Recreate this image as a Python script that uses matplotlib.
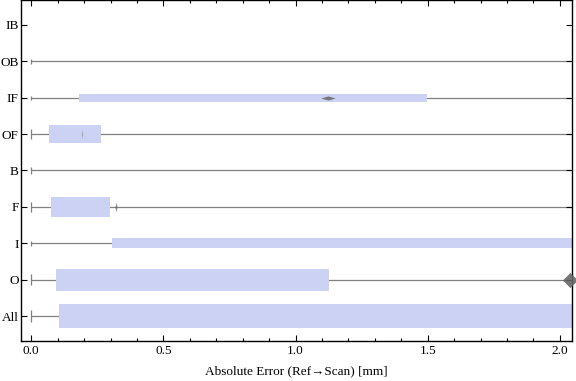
import matplotlib
matplotlib.use("Agg")
import matplotlib.pyplot as plt
from matplotlib.ticker import MultipleLocator

# categories listed bottom -> top
categories = ["All", "O", "I", "F", "B", "OF", "IF", "OB", "IB"]
# whisker low / high (mm); None = nothing drawn
whisk_lo = [0.0, 0.0, 0.0, 0.0, 0.0, 0.0, 0.0, 0.0, None]
whisk_hi = [2.6, 2.6, 2.6, 2.6, 2.6, 2.6, 2.6, 2.6, None]
# box quartiles (mm)
q1 = [0.105, 0.093, 0.305, 0.075, None, 0.067, 0.180, None, None]
q3 = [2.60, 1.126, 2.60, 0.298, None, 0.263, 1.496, None, None]
# box thickness (category units)
box_w = [0.65, 0.60, 0.27, 0.57, 0.38, 0.51, 0.22, 0.27, 0.0]
# diamond markers (mm), None = none
marker_x = [None, 2.04, None, 0.322, None, 0.19, 1.123, None, None]

box_color = "#ccd2f4"
line_color = "#808080"

plt.rcParams["font.family"] = ["Liberation Serif", "DejaVu Serif"]

fig = plt.figure(figsize=(5.76, 3.81), dpi=100)
ax = fig.add_axes([0.036, 0.106, 0.9565, 0.893])

ypos = list(range(1, len(categories) + 1))

for y, lo, hi, a, b, w, mx in zip(ypos, whisk_lo, whisk_hi, q1, q3, box_w, marker_x):
    if lo is not None:
        ax.hlines(y, lo, hi, color=line_color, lw=0.9, zorder=1)
        ax.vlines(lo, y - w / 4, y + w / 4, color=line_color, lw=0.9, zorder=1)
    if a is not None:
        ax.barh(y, b - a, left=a, height=w, color=box_color, lw=0, zorder=2)

# median / mean diamonds (shape differs per row)
ax.scatter([marker_x[6]], [ypos[6]], marker=[(-1, 0), (0, 0.28), (1, 0), (0, -0.28)],
           s=110, color="#666666", alpha=0.85, lw=0, zorder=3)
ax.scatter([marker_x[5]], [ypos[5]], marker=[(-0.15, 0), (0, 1), (0.15, 0), (0, -1)],
           s=45, color="#9a9aa8", alpha=0.8, lw=0, zorder=3)
ax.scatter([marker_x[3]], [ypos[3]], marker=[(-0.25, 0), (0, 1), (0.25, 0), (0, -1)],
           s=45, color="#777777", alpha=0.85, lw=0, zorder=3)
ax.scatter([marker_x[1]], [ypos[1]], marker="D", s=60, color="#666666",
           alpha=0.9, lw=0, zorder=3, clip_on=False)

ax.set_xlim(-0.04, 2.045)
ax.set_ylim(0.33, 9.67)
ax.set_yticks(ypos)
ax.set_yticklabels(categories, fontsize=9.5)
ax.xaxis.set_major_locator(MultipleLocator(0.5))
ax.xaxis.set_minor_locator(MultipleLocator(0.1))
ax.set_xticklabels([], minor=True)
ax.xaxis.set_major_formatter(plt.FuncFormatter(lambda v, p: f"{v:.1f}"))
ax.tick_params(axis="both", which="both", direction="in", top=True, right=True,
               labelsize=9.5, width=0.8)
ax.tick_params(axis="both", which="major", length=4, pad=3)
ax.tick_params(axis="y", which="major", pad=1.5)
ax.tick_params(axis="x", which="minor", length=2.5)
ax.set_xlabel("Absolute Error (Ref\u2192Scan) [mm]", fontsize=9.5, labelpad=6)
for s in ax.spines.values():
    s.set_linewidth(1.0)

fig.savefig("out.png", dpi=100)
